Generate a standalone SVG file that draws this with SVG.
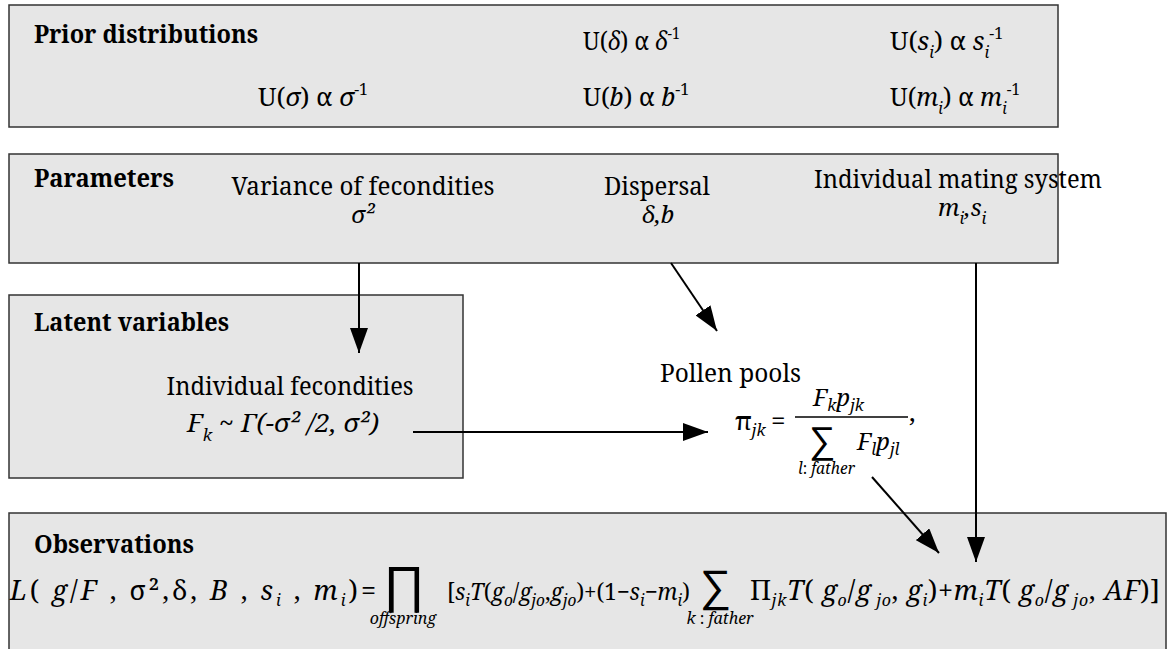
<svg xmlns="http://www.w3.org/2000/svg" width="1173" height="649" viewBox="0 0 1173 649">
<style>
.box{fill:#e6e6e6;stroke:#333;stroke-width:1.5}
.t{font-family:"Noto Serif","DejaVu Serif",serif;font-size:26px;fill:#000}
.b{font-weight:bold}
.i{font-style:italic}
.s{font-size:16px}
.sm{font-family:"Noto Serif","DejaVu Serif",serif;font-style:italic;font-size:16px}
.op{font-family:"DejaVu Sans",sans-serif;font-weight:200;fill:#000}
.con{stroke:#000;stroke-width:2;fill:none;marker-end:url(#ah)}
</style>
<defs>
<marker id="ah" markerUnits="userSpaceOnUse" markerWidth="26" markerHeight="18" refX="25" refY="9" orient="auto">
<path d="M0,0 L25,9 L0,18 z" fill="#000"/>
</marker>
</defs>
<g id="priors">
<rect class="box" x="9" y="5" width="1049" height="122"/>
<text class="t b" x="34" y="43" textLength="224" lengthAdjust="spacingAndGlyphs">Prior distributions</text>
<text class="t" x="583" y="50" textLength="97" lengthAdjust="spacingAndGlyphs">U(<tspan class="i">δ</tspan>) α <tspan class="i">δ</tspan><tspan class="s" dy="-11">-1</tspan></text>
<text class="t" x="890" y="50" textLength="113" lengthAdjust="spacingAndGlyphs">U(<tspan class="i">s</tspan><tspan class="s i" dy="8">i</tspan><tspan dy="-8">) α </tspan><tspan class="i">s</tspan><tspan class="s i" dy="8">i</tspan><tspan class="s" dy="-19">-1</tspan></text>
<text class="t" x="258" y="106" textLength="110" lengthAdjust="spacingAndGlyphs">U(<tspan class="i">σ</tspan>) α <tspan class="i">σ</tspan><tspan class="s" dy="-11">-1</tspan></text>
<text class="t" x="583" y="106" style="font-size:25px">U(<tspan class="i">b</tspan>) α <tspan class="i">b</tspan><tspan class="s" dy="-11">-1</tspan></text>
<text class="t" x="890" y="106" textLength="130" lengthAdjust="spacingAndGlyphs">U(<tspan class="i">m</tspan><tspan class="s i" dy="8">i</tspan><tspan dy="-8">) α </tspan><tspan class="i">m</tspan><tspan class="s i" dy="8">i</tspan><tspan class="s" dy="-19">-1</tspan></text>
</g>
<g id="parameters">
<rect class="box" x="9" y="154" width="1049" height="109"/>
<text class="t b" x="34" y="187" textLength="140" lengthAdjust="spacingAndGlyphs">Parameters</text>
<text class="t" x="363" y="195" text-anchor="middle" textLength="263" lengthAdjust="spacingAndGlyphs">Variance of fecondities</text>
<text class="t i" x="363" y="223" text-anchor="middle" style="font-size:24px">σ²</text>
<text class="t" x="657" y="195" text-anchor="middle" textLength="106" lengthAdjust="spacingAndGlyphs">Dispersal</text>
<text class="t i" x="658" y="223" text-anchor="middle" style="font-size:24px">δ,b</text>
<text class="t" x="958" y="188" text-anchor="middle" textLength="288" lengthAdjust="spacingAndGlyphs">Individual mating system</text>
<text class="t i" x="938" y="216" style="font-size:24px">m<tspan class="s" dy="8">i</tspan><tspan dy="-8">,s</tspan><tspan class="s" dy="8">i</tspan></text>
</g>
<g id="latent">
<rect class="box" x="9" y="295" width="454" height="183"/>
<text class="t b" x="34" y="331" textLength="195" lengthAdjust="spacingAndGlyphs">Latent variables</text>
<text class="t" x="290" y="395" text-anchor="middle" textLength="247" lengthAdjust="spacingAndGlyphs">Individual fecondities</text>
<text class="t i" x="187" y="432" textLength="192" lengthAdjust="spacingAndGlyphs">F<tspan class="s" dy="9">k</tspan><tspan dy="-9"> ~ Γ(-σ² /2, σ²)</tspan></text>
</g>
<g id="pollen">
<text class="t" x="660" y="382" textLength="141" lengthAdjust="spacingAndGlyphs">Pollen pools</text>
<text class="t" x="735" y="430">π<tspan class="s i" dy="6">jk</tspan></text>
<text class="t" x="771" y="430">=</text>
<line x1="795" y1="417" x2="908" y2="417" stroke="#000" stroke-width="1.5"/>
<text class="t i" x="813" y="406" style="font-size:24px">F<tspan class="s" dy="5">k</tspan><tspan dy="-5">p</tspan><tspan class="s" dy="5">jk</tspan></text>
<text class="op" x="809" y="453" style="font-size:37px">∑</text>
<text class="t i" x="857" y="450" style="font-size:24px">F<tspan class="s" dy="5">l</tspan><tspan dy="-5">p</tspan><tspan class="s" dy="5">jl</tspan></text>
<text class="sm" x="798" y="474" textLength="57" lengthAdjust="spacingAndGlyphs">l<tspan font-style="normal">:</tspan> father</text>
<text class="t" x="909" y="421">,</text>
</g>
<g id="observations">
<rect class="box" x="9" y="513" width="1157" height="150"/>
<text class="t b" x="34" y="553" textLength="160" lengthAdjust="spacingAndGlyphs">Observations</text>
<text class="t" x="10" y="600" textLength="366" lengthAdjust="spacing" style="font-size:27px"><tspan class="i">L</tspan>( <tspan class="i">g</tspan>/<tspan class="i">F</tspan> , σ²,δ, <tspan class="i">B</tspan> , <tspan class="i">s</tspan><tspan class="s i" dy="6">i</tspan><tspan dy="-6"> , </tspan><tspan class="i">m</tspan><tspan class="s i" dy="6">i</tspan><tspan dy="-6">)=</tspan></text>
<text class="op" x="383" y="602" style="font-size:51px">∏</text>
<text class="sm" x="403" y="624" text-anchor="middle">offspring</text>
<text class="t" x="447" y="600" textLength="243" lengthAdjust="spacingAndGlyphs" style="font-size:23px">[<tspan class="i">s</tspan><tspan class="s i" dy="6">i</tspan><tspan class="i" dy="-6">T</tspan>(<tspan class="i">g</tspan><tspan class="s i" dy="6">o</tspan><tspan dy="-6">/</tspan><tspan class="i">g</tspan><tspan class="s i" dy="6">jo</tspan><tspan dy="-6">,</tspan><tspan class="i">g</tspan><tspan class="s i" dy="6">jo</tspan><tspan dy="-6">)+(1−</tspan><tspan class="i">s</tspan><tspan class="s i" dy="6">i</tspan><tspan dy="-6">−</tspan><tspan class="i">m</tspan><tspan class="s i" dy="6">i</tspan><tspan dy="-6">)</tspan></text>
<text class="op" x="700" y="601" style="font-size:44px">∑</text>
<text class="sm" x="720" y="624" text-anchor="middle">k<tspan font-style="normal"> : </tspan>father</text>
<text class="t" x="750" y="600" textLength="410" lengthAdjust="spacing" style="font-size:27px">Π<tspan class="s i" dy="6">jk</tspan><tspan class="i" dy="-6">T</tspan>( <tspan class="i">g</tspan><tspan class="s i" dy="6">o</tspan><tspan dy="-6">/</tspan><tspan class="i">g</tspan><tspan class="s i" dy="6"> jo</tspan><tspan dy="-6">, </tspan><tspan class="i">g</tspan><tspan class="s i" dy="6">i</tspan><tspan dy="-6">)+</tspan><tspan class="i">m</tspan><tspan class="s i" dy="6">i</tspan><tspan class="i" dy="-6">T</tspan>( <tspan class="i">g</tspan><tspan class="s i" dy="6">o</tspan><tspan dy="-6">/</tspan><tspan class="i">g</tspan><tspan class="s i" dy="6"> jo</tspan><tspan dy="-6">, </tspan><tspan class="i">AF</tspan>)]</text>
</g>
<g id="connectors">
<line class="con" x1="359" y1="263" x2="359" y2="353"/>
<line class="con" x1="671" y1="263" x2="717" y2="331"/>
<line class="con" x1="413" y1="432" x2="708" y2="432"/>
<line class="con" x1="872" y1="477" x2="939" y2="553"/>
<line class="con" x1="976" y1="263" x2="976" y2="562"/>
</g>
</svg>
